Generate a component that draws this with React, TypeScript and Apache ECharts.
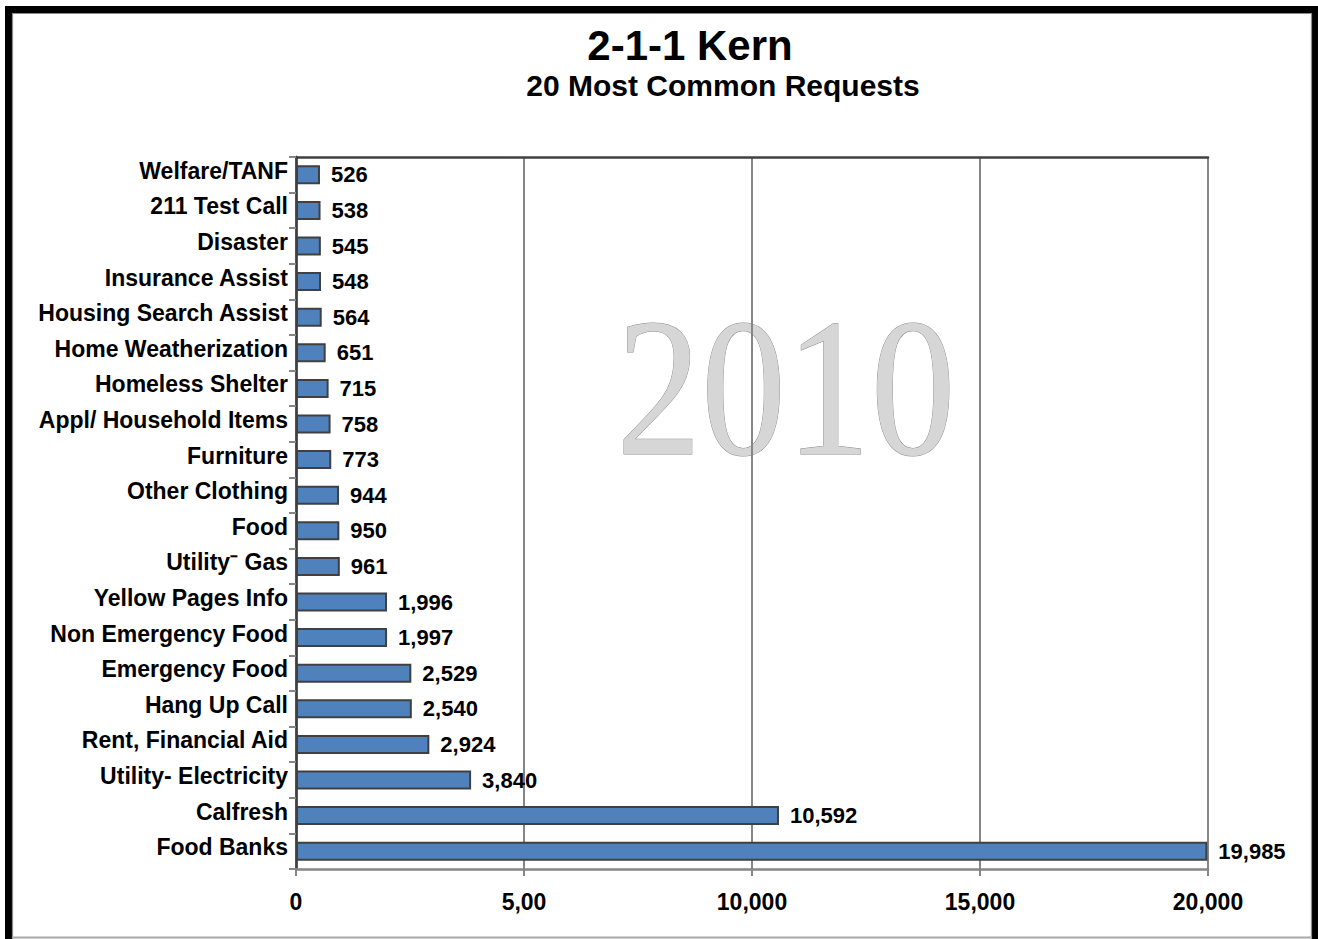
import React, { useEffect, useRef } from "react";
import * as echarts from "echarts";

const titleText = "2-1-1 Kern";
const subtitleText = "20 Most Common Requests";
const watermarkText = "2010";

const categories = [
  "Welfare/TANF",
  "211 Test Call",
  "Disaster",
  "Insurance Assist",
  "Housing Search Assist",
  "Home Weatherization",
  "Homeless Shelter",
  "Appl/ Household Items",
  "Furniture",
  "Other Clothing",
  "Food",
  "Utility\u207B Gas",
  "Yellow Pages Info",
  "Non Emergency Food",
  "Emergency Food",
  "Hang Up Call",
  "Rent, Financial Aid",
  "Utility- Electricity",
  "Calfresh",
  "Food Banks",
];

const requests = [
  526, 538, 545, 548, 564, 651, 715, 758, 773, 944, 950, 961, 1996, 1997, 2529,
  2540, 2924, 3840, 10592, 19985,
];

const tickLabels = ["0", "5,00", "10,000", "15,000", "20,000"];

const FONT = '"Liberation Sans", Arial, sans-serif';
const GRAY = "#868686";
const DARK = "#404040";

export default function App() {
  const ref = useRef<HTMLDivElement>(null);

  useEffect(() => {
    if (!ref.current) return;
    const chart = echarts.init(ref.current, null, { renderer: "svg" });

    chart.setOption({
      animation: false,
      backgroundColor: "#ffffff",
      title: [
        {
          text: titleText,
          left: 685,
          top: 19,
          textAlign: "center",
          textStyle: {
            fontFamily: FONT,
            fontWeight: "bold",
            fontSize: 42,
            color: "#000",
          },
        },
        {
          text: subtitleText,
          left: 718,
          top: 65,
          textAlign: "center",
          textStyle: {
            fontFamily: FONT,
            fontWeight: "bold",
            fontSize: 30,
            color: "#000",
          },
        },
      ],
      graphic: [
        {
          type: "text",
          z: -1,
          x: 786,
          y: 388,
          scaleX: 0.86,
          style: {
            text: watermarkText,
            font: '197px "Liberation Serif", "DejaVu Serif", serif',
            fill: "#d6d6d6",
            stroke: "#8c8c8c",
            lineWidth: 1,
            align: "center",
            verticalAlign: "middle",
          },
        },
        {
          type: "polyline",
          shape: {
            points: [
              [8.5, 960],
              [8.5, 9.5],
              [1315, 9.5],
              [1315, 960],
            ],
          },
          style: { stroke: "#000", lineWidth: 7, fill: "none" },
        },
        {
          type: "polyline",
          shape: {
            points: [
              [12.5, 960],
              [12.5, 13.5],
              [1311.5, 13.5],
              [1311.5, 960],
            ],
          },
          style: { stroke: "#8a8a8a", lineWidth: 1.2, fill: "none" },
        },
        {
          type: "line",
          shape: { x1: 12, y1: 937.5, x2: 1312, y2: 937.5 },
          style: { stroke: "#a8a8a8", lineWidth: 2 },
        },
      ],
      grid: {
        left: 296,
        right: 110,
        top: 157,
        bottom: 70,
        show: false,
      },
      xAxis: [
        {
          type: "value",
          min: 0,
          max: 20000,
          interval: 5000,
          axisLine: { show: true, lineStyle: { color: GRAY, width: 2.5 } },
          axisTick: {
            show: true,
            length: 7,
            lineStyle: { color: GRAY, width: 2 },
          },
          splitLine: { show: true, lineStyle: { color: GRAY, width: 2 } },
          axisLabel: {
            margin: 21,
            fontFamily: FONT,
            fontWeight: "bold",
            fontSize: 23,
            color: "#000",
            formatter: (_v: number, idx: number) => tickLabels[idx] ?? "",
          },
        },
        {
          type: "value",
          position: "top",
          min: 0,
          max: 20000,
          interval: 5000,
          axisLine: { show: true, lineStyle: { color: DARK, width: 2.5 } },
          axisTick: { show: false },
          axisLabel: { show: false },
          splitLine: { show: false },
        },
      ],
      yAxis: [
        {
          type: "category",
          inverse: true,
          data: categories,
          axisLine: { show: true, lineStyle: { color: GRAY, width: 2.5 } },
          axisTick: {
            show: true,
            length: 7,
            lineStyle: { color: GRAY, width: 2 },
          },
          axisLabel: {
            margin: 8,
            color: "#000",
            formatter: (v: string) => `{c|${v}}`,
            rich: {
              c: {
                fontFamily: FONT,
                fontWeight: "bold",
                fontSize: 23,
                color: "#000",
                padding: [0, 0, 8, 0],
              },
            },
          },
          splitLine: { show: false },
        },
        {
          type: "category",
          inverse: true,
          position: "right",
          data: categories,
          axisLine: { show: true, lineStyle: { color: DARK, width: 2.5 } },
          axisTick: { show: false },
          axisLabel: { show: false },
          splitLine: { show: false },
        },
      ],
      series: [
        {
          type: "bar",
          xAxisIndex: 0,
          yAxisIndex: 0,
          data: requests,
          barWidth: 19,
          itemStyle: {
            color: "#4F81BD",
            borderColor: DARK,
            borderWidth: 2,
          },
          label: {
            show: true,
            position: "right",
            distance: 11,
            fontFamily: FONT,
            fontWeight: "bold",
            fontSize: 22,
            color: "#000",
            formatter: (p: any) => Number(p.value).toLocaleString("en-US"),
          },
        },
      ],
    });

    return () => {
      chart.dispose();
    };
  }, []);

  return (
    <div
      ref={ref}
      style={{
        position: "absolute",
        left: 0,
        top: 0,
        width: 1318,
        height: 939,
      }}
    />
  );
}
